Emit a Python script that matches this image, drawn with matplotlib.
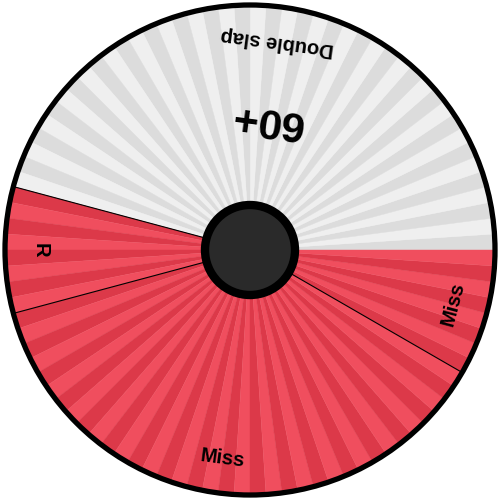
import numpy as np
import matplotlib.pyplot as plt
from matplotlib.patches import Wedge, Circle

# wheel segments (sizes in degrees, counter-clockwise from east)
labels = ["Double slap", "R", "Miss", "Miss"]
sizes = [165, 30, 135, 30]
families = ["gray", "red", "red", "red"]
big_labels = ["60+", "", "", ""]

n_stripes = 96
palette = {
    "gray": ("#efefef", "#dcdcdc"),
    "red": ("#f04e5e", "#dc3949"),
}

R = 244
fig = plt.figure(figsize=(5, 5), dpi=100)
ax = fig.add_axes([0, 0, 1, 1])
ax.set_xlim(-250, 250)
ax.set_ylim(-250, 250)
ax.set_aspect("equal")
ax.axis("off")

step = 360 / n_stripes
start = 0
for lab, size, fam, big in zip(labels, sizes, families, big_labels):
    end = start + size
    light, dark = palette[fam]
    k0 = int(np.floor(start / step))
    k1 = int(np.ceil(end / step))
    for k in range(k0, k1):
        a0 = max(start, k * step)
        a1 = min(end, (k + 1) * step)
        col = dark if k % 2 == 0 else light
        ax.add_patch(Wedge((0, 0), R, a0, a1, facecolor=col,
                           edgecolor=col, linewidth=0.3, zorder=1))
    mid = np.deg2rad((start + end) / 2)
    rot = (start + end) / 2 + 90
    ax.text(210 * np.cos(mid), 210 * np.sin(mid), lab, rotation=rot,
            rotation_mode="anchor", ha="center", va="center",
            fontsize=14.5, fontweight="bold", family="Liberation Sans", zorder=5)
    if big:
        ax.text(132 * np.cos(mid), 132 * np.sin(mid), big, rotation=rot,
                rotation_mode="anchor", ha="center", va="center",
                fontsize=31, fontweight="bold", family="Liberation Sans", zorder=5)
    start = end

# separator lines between segments
for ang in np.cumsum(sizes)[:-1]:
    a = np.deg2rad(ang)
    ax.plot([0, R * np.cos(a)], [0, R * np.sin(a)], color="black", lw=0.8, zorder=2)

ax.add_patch(Circle((0, 0), 245, facecolor="none", edgecolor="black", lw=3.8, zorder=3))
ax.add_patch(Circle((0, 0), 45, facecolor="#2a2a2a", edgecolor="black", lw=6, zorder=4))

fig.savefig("out.png", dpi=100)
